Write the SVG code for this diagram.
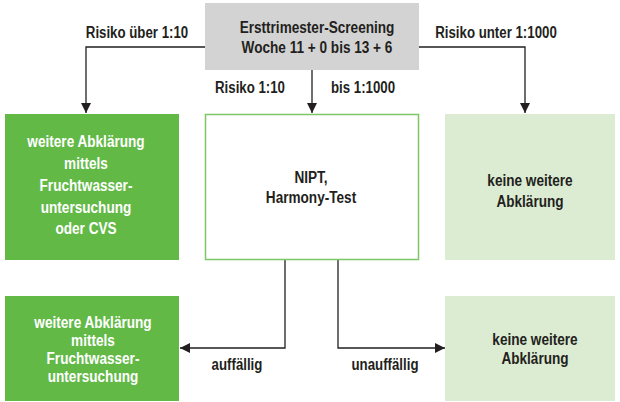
<svg xmlns="http://www.w3.org/2000/svg" width="620" height="402" viewBox="0 0 620 402">
<style>
text{font-family:"Liberation Sans",Arial,sans-serif;font-size:17px;text-anchor:middle;font-weight:bold}
.d{fill:#231f20}
.w{fill:#ffffff}
.c{fill:none;stroke:#231f20;stroke-width:1.3}
</style>
<defs>
<marker id="ah" viewBox="0 0 10 10" refX="10" refY="5" markerWidth="10" markerHeight="10" markerUnits="userSpaceOnUse" orient="auto">
<path d="M0,0 L10,5 L0,10 z" fill="#231f20"/>
</marker>
</defs>
<rect width="620" height="402" fill="#ffffff"/>
<g id="connectors">
<polyline class="c" points="205,47 86,47 86,113" marker-end="url(#ah)"/>
<polyline class="c" points="419,47 525,47 525,113" marker-end="url(#ah)"/>
<line class="c" x1="312" y1="70" x2="312" y2="113" marker-end="url(#ah)"/>
<polyline class="c" points="285,260 285,348 180,348" marker-end="url(#ah)"/>
<polyline class="c" points="338,260 338,348 445,348" marker-end="url(#ah)"/>
<text class="d" transform="translate(137,38) scale(0.78,1)">Risiko über 1:10</text>
<text class="d" transform="translate(496,38) scale(0.78,1)">Risiko unter 1:1000</text>
<text class="d" transform="translate(250,93) scale(0.78,1)">Risiko 1:10</text>
<text class="d" transform="translate(363,93) scale(0.78,1)">bis 1:1000</text>
<text class="d" transform="translate(237,370) scale(0.78,1)">auffällig</text>
<text class="d" transform="translate(385,370) scale(0.78,1)">unauffällig</text>
</g>
<g id="screening">
<rect x="205" y="3" width="214" height="67" fill="#d3d3d3"/>
<text class="d" transform="translate(317,33) scale(0.8,1)">Ersttrimester-Screening</text>
<text class="d" transform="translate(317,53) scale(0.8,1)">Woche 11 + 0 bis 13 + 6</text>
</g>
<g id="abklaerung-cvs">
<rect x="5" y="114" width="174" height="146" fill="#62b946"/>
<text class="w" transform="translate(86,147) scale(0.8,1)">weitere Abklärung</text>
<text class="w" transform="translate(86,169) scale(0.8,1)">mittels</text>
<text class="w" transform="translate(86,191) scale(0.8,1)">Fruchtwasser-</text>
<text class="w" transform="translate(86,213) scale(0.8,1)">untersuchung</text>
<text class="w" transform="translate(86,234) scale(0.8,1)">oder CVS</text>
</g>
<g id="nipt">
<rect x="205.5" y="114.5" width="213" height="145" fill="#ffffff" stroke="#7cc863" stroke-width="1.5"/>
<text class="d" transform="translate(311,183) scale(0.8,1)">NIPT,</text>
<text class="d" transform="translate(311,203) scale(0.8,1)">Harmony-Test</text>
</g>
<g id="keine-1">
<rect x="445" y="114" width="170" height="146" fill="#dcecd2"/>
<text class="d" transform="translate(530,186) scale(0.8,1)">keine weitere</text>
<text class="d" transform="translate(530,207) scale(0.8,1)">Abklärung</text>
</g>
<g id="abklaerung-2">
<rect x="5" y="296" width="174" height="105" fill="#62b946"/>
<text class="w" transform="translate(93,328) scale(0.8,1)">weitere Abklärung</text>
<text class="w" transform="translate(93,346) scale(0.8,1)">mittels</text>
<text class="w" transform="translate(93,364) scale(0.8,1)">Fruchtwasser-</text>
<text class="w" transform="translate(93,382) scale(0.8,1)">untersuchung</text>
</g>
<g id="keine-2">
<rect x="445" y="296" width="170" height="105" fill="#dcecd2"/>
<text class="d" transform="translate(535,345) scale(0.8,1)">keine weitere</text>
<text class="d" transform="translate(535,364) scale(0.8,1)">Abklärung</text>
</g>
</svg>
